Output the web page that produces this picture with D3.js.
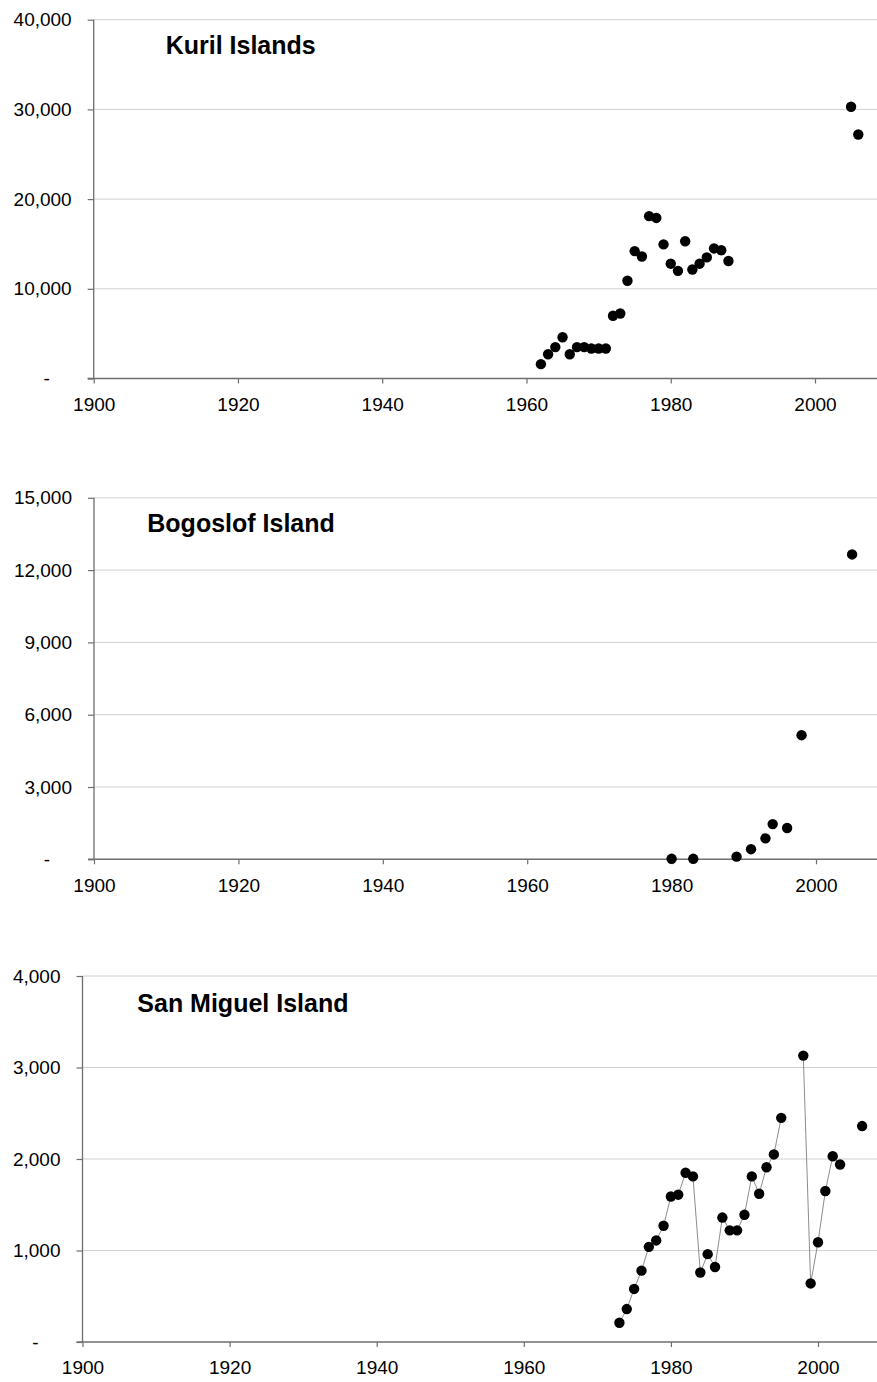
<!DOCTYPE html>
<html>
<head>
<meta charset="utf-8">
<script src="https://cdn.jsdelivr.net/npm/d3@7/dist/d3.min.js"></script>
<style>
  html, body { margin: 0; padding: 0; background: #fff; }
  svg { display: block; font-family: "Liberation Sans", Arial, sans-serif; }
</style>
</head>
<body>
<svg id="chart" width="877" height="1382"></svg>
<script>
// Year axis ticks shared by all three panels
const yearTicks = [1900, 1920, 1940, 1960, 1980, 2000];

// Kuril Islands counts
const kurilYears = [1962, 1963, 1964, 1965, 1966, 1967, 1968, 1969, 1970, 1971,
  1972, 1973, 1974, 1975, 1976, 1977, 1978, 1979, 1980, 1981, 1982, 1983, 1984,
  1985, 1986, 1987, 1988, 2005, 2006];
const kurilCounts = [1600, 2700, 3500, 4600, 2700, 3500, 3500, 3350, 3350, 3350,
  7000, 7250, 10900, 14200, 13600, 18100, 17900, 14950, 12800, 12000, 15300, 12150, 12800,
  13500, 14500, 14300, 13100, 30300, 27200];
const kurilTicks = [0, 10000, 20000, 30000, 40000];

// Bogoslof Island counts
const bogoslofYears = [1980, 1983, 1989, 1991, 1993, 1994, 1996, 1998, 2005];
const bogoslofCounts = [20, 20, 110, 420, 870, 1460, 1300, 5150, 12650];
const bogoslofTicks = [0, 3000, 6000, 9000, 12000, 15000];

// San Miguel Island counts (null = no survey that year, breaks the line)
const sanMiguelYears = [1973, 1974, 1975, 1976, 1977, 1978, 1979, 1980, 1981, 1982,
  1983, 1984, 1985, 1986, 1987, 1988, 1989, 1990, 1991, 1992, 1993, 1994, 1995,
  1996, 1997, 1998, 1999, 2000, 2001, 2002, 2003, 2004, 2005, 2006];
const sanMiguelCounts = [210, 360, 580, 780, 1040, 1110, 1270, 1590, 1610, 1850,
  1810, 760, 960, 820, 1360, 1220, 1220, 1390, 1810, 1620, 1910, 2050, 2450,
  null, null, 3130, 640, 1090, 1650, 2030, 1940, null, null, 2360];
const sanMiguelTicks = [0, 1000, 2000, 3000, 4000];

const W = 877;
const svg = d3.select("#chart");
svg.append("rect").attr("width", W).attr("height", 1382).attr("fill", "#fff");

const panels = [
  { title: "Kuril Islands", years: kurilYears, counts: kurilCounts, ticks: kurilTicks,
    left: 93.7, x2000: 815, top: 19.7, bottom: 378.5, titleX: 165.7, titleY: 54, line: false },
  { title: "Bogoslof Island", years: bogoslofYears, counts: bogoslofCounts, ticks: bogoslofTicks,
    left: 94, x2000: 816, top: 497.8, bottom: 859.3, titleX: 147.3, titleY: 531.7, line: false },
  { title: "San Miguel Island", years: sanMiguelYears, counts: sanMiguelCounts, ticks: sanMiguelTicks,
    left: 82.5, x2000: 818, top: 976, bottom: 1342, titleX: 137.3, titleY: 1011.7, line: true }
];

const fmt = d3.format(",");
const axisColor = "#6e6e6e";

panels.forEach(p => {
  const g = svg.append("g");
  const yMax = p.ticks[p.ticks.length - 1];
  const x = d3.scaleLinear().domain([1900, 2000]).range([p.left, p.x2000]);
  const y = d3.scaleLinear().domain([0, yMax]).range([p.bottom, p.top]);

  // horizontal gridlines
  g.append("g").selectAll("line")
    .data(p.ticks.filter(t => t > 0))
    .join("line")
    .attr("x1", p.left).attr("x2", W)
    .attr("y1", d => y(d)).attr("y2", d => y(d))
    .attr("stroke", "#d0d0d0").attr("stroke-width", 1);

  // y axis
  const yAxis = g.append("g")
    .attr("transform", `translate(${p.left},0)`)
    .call(d3.axisLeft(y).tickValues(p.ticks).tickSize(6).tickPadding(16)
      .tickFormat(d => d === 0 ? "-" : fmt(d)));
  yAxis.select(".domain").remove();
  yAxis.selectAll(".tick line").attr("stroke", axisColor).attr("stroke-width", 1.2);
  yAxis.selectAll(".tick text")
    .attr("font-size", 19).attr("fill", "#000")
    .attr("font-family", "'Liberation Sans', Arial, sans-serif");
  yAxis.selectAll(".tick").filter(d => d === 0).select("text")
    .attr("x", -47).attr("text-anchor", "middle");

  // x axis
  const xAxis = g.append("g")
    .attr("transform", `translate(0,${p.bottom})`)
    .call(d3.axisBottom(x).tickValues(yearTicks).tickSize(5).tickPadding(14)
      .tickFormat(d3.format("d")));
  xAxis.select(".domain").remove();
  xAxis.selectAll(".tick line").attr("stroke", axisColor).attr("stroke-width", 1.2);
  xAxis.selectAll(".tick text")
    .attr("font-size", 19).attr("fill", "#000")
    .attr("font-family", "'Liberation Sans', Arial, sans-serif");

  // axis lines
  g.append("line")
    .attr("x1", p.left).attr("x2", p.left)
    .attr("y1", p.top).attr("y2", p.bottom)
    .attr("stroke", axisColor).attr("stroke-width", 1.3);
  g.append("line")
    .attr("x1", p.left - 6).attr("x2", W)
    .attr("y1", p.bottom).attr("y2", p.bottom)
    .attr("stroke", axisColor).attr("stroke-width", 1.5);

  const data = p.years.map((yr, i) => ({ year: yr, count: p.counts[i] }));

  // connecting line (gaps where a year has no count)
  if (p.line) {
    const line = d3.line()
      .defined(d => d.count != null)
      .x(d => x(d.year)).y(d => y(d.count));
    g.append("path")
      .datum(data)
      .attr("d", line)
      .attr("fill", "none")
      .attr("stroke", "#8c8c8c")
      .attr("stroke-width", 1);
  }

  // markers
  g.append("g").selectAll("circle")
    .data(data.filter(d => d.count != null))
    .join("circle")
    .attr("cx", d => x(d.year))
    .attr("cy", d => y(d.count))
    .attr("r", 5.2)
    .attr("fill", "#000");

  // panel title
  g.append("text")
    .attr("x", p.titleX).attr("y", p.titleY)
    .attr("font-size", 25).attr("font-weight", "bold").attr("fill", "#000")
    .text(p.title);
});
</script>
</body>
</html>
